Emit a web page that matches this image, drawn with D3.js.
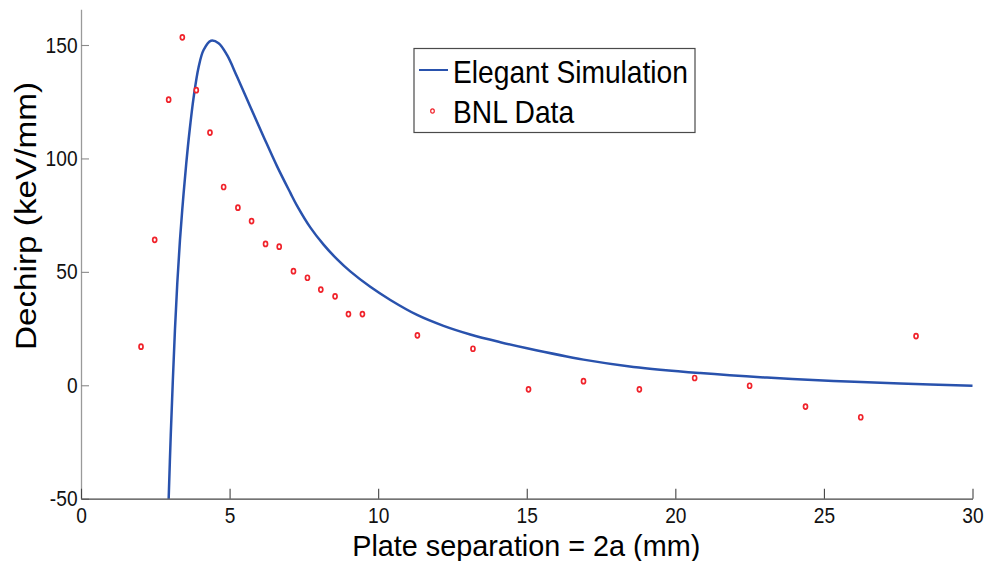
<!DOCTYPE html>
<html>
<head>
<meta charset="utf-8">
<script src="https://cdn.jsdelivr.net/npm/d3@7"></script>
<style>
  html, body { margin: 0; padding: 0; background: #fff; }
  svg { display: block; font-family: "Liberation Sans", Arial, sans-serif; }
</style>
</head>
<body>
<svg id="chart" width="984" height="561"></svg>
<script>
// ---- Data ----
const simX = [2.95, 3.02, 3.09, 3.16, 3.24, 3.33, 3.43, 3.54, 3.654, 3.789, 3.957, 4.125, 4.374, 4.63, 4.913, 5.249, 5.697, 6.144, 6.595, 7.042, 7.268, 7.715, 8.163, 8.614, 9.061, 9.734, 10.41, 11.31, 12.2, 13.1, 14.11, 15.01, 16.91, 18.59, 20.84, 23.08, 25.32, 27.57, 30.0];
const simY = [-50, -22, 2, 24, 45, 64, 81, 97.5, 112.2, 126.8, 140.2, 147.8, 151.9, 150.8, 145.6, 136.1, 122.8, 109.6, 96.6, 84.9, 79.2, 69.6, 62.0, 55.6, 50.2, 43.4, 37.6, 31.0, 26.2, 22.4, 19.0, 16.3, 11.3, 8.1, 5.4, 3.4, 1.9, 0.8, -0.2];

const bnlX = [2.02, 2.48, 2.95, 3.41, 3.88, 4.34, 4.80, 5.28, 5.74, 6.21, 6.67, 7.15, 7.62, 8.07, 8.55, 9.0, 9.47, 11.32, 13.19, 15.06, 16.91, 18.79, 20.65, 22.5, 24.38, 26.24, 28.1];
const bnlY = [17.0, 64.1, 125.9, 153.4, 130.1, 111.4, 87.4, 78.3, 72.4, 62.3, 61.1, 50.3, 47.4, 42.2, 39.2, 31.4, 31.4, 22.0, 16.1, -1.8, 1.8, -1.8, 3.2, -0.2, -9.4, -14.1, 21.7];

const xTicks = [0, 5, 10, 15, 20, 25, 30];
const yTicks = [-50, 0, 50, 100, 150];
const seriesNames = ["Elegant Simulation", "BNL Data"];
const xLabel = "Plate separation = 2a (mm)";
const yLabel = "Dechirp (keV/mm)";

// ---- Layout ----
const svg = d3.select("#chart");
const x = d3.scaleLinear().domain([0, 30]).range([81, 972.5]);
const yTop = 150 + (45 - 9.3) / 2.268;
const y = d3.scaleLinear().domain([-50, yTop]).range([498.7, 9.3]);

const lineColor = "#2952ad";
const dotColor = "#f0232b";

svg.append("clipPath").attr("id", "plotclip")
  .append("rect").attr("x", 81).attr("y", 0).attr("width", 900).attr("height", 499);

const simData = simX.map((v, i) => [v, simY[i]]);
svg.append("path")
  .datum(simData)
  .attr("clip-path", "url(#plotclip)")
  .attr("fill", "none")
  .attr("stroke", lineColor)
  .attr("stroke-width", 2.5)
  .attr("stroke-linejoin", "round")
  .attr("d", d3.line().x(d => x(d[0])).y(d => y(d[1])).curve(d3.curveCatmullRom.alpha(0.5)));

svg.append("g").selectAll("ellipse")
  .data(bnlX.map((v, i) => [v, bnlY[i]]))
  .join("ellipse")
  .attr("cx", d => x(d[0]))
  .attr("cy", d => y(d[1]))
  .attr("rx", 2.0)
  .attr("ry", 2.5)
  .attr("fill", "#fff")
  .attr("stroke", dotColor)
  .attr("stroke-width", 1.7);

// axes
const tickSX = 0.87;
const fmt = d => String(d);
const yAxis = svg.append("g")
  .attr("transform", `translate(${x(0)},0)`)
  .call(d3.axisLeft(y).tickValues(yTicks).tickSizeInner(-8).tickSizeOuter(0).tickPadding(4).tickFormat(fmt));
yAxis.select(".domain").attr("stroke", "#9a9a9a").attr("stroke-width", 1.3);
yAxis.selectAll(".tick line").attr("stroke", "#8a8a8a").attr("stroke-width", 1.1);
yAxis.selectAll(".tick text")
  .attr("font-size", 22).attr("fill", "#111")
  .attr("font-family", "Liberation Sans, Arial, sans-serif")
  .attr("transform", `scale(${tickSX},1)`);

const xAxis = svg.append("g")
  .attr("transform", `translate(0,${y(-50)})`)
  .call(d3.axisBottom(x).tickValues(xTicks).tickSizeInner(-10).tickSizeOuter(0).tickPadding(8.5).tickFormat(fmt));
xAxis.select(".domain").attr("stroke", "#444").attr("stroke-width", 1.3);
xAxis.selectAll(".tick line").attr("stroke", "#444").attr("stroke-width", 1.1);
xAxis.selectAll(".tick text")
  .attr("font-size", 22).attr("fill", "#111")
  .attr("font-family", "Liberation Sans, Arial, sans-serif")
  .attr("transform", `scale(${tickSX},1)`);

function stext(px, py, str, size, sx, sy, anchor, rot) {
  const g = svg.append("g")
    .attr("transform", `translate(${px},${py}) rotate(${rot || 0}) scale(${sx},${sy})`);
  g.append("text").attr("text-anchor", anchor).attr("font-size", size).attr("fill", "#000").text(str);
  return g;
}

// axis labels
stext((x(0) + x(30)) / 2 - 0.5, 556, xLabel, 30, 0.96, 1, "middle", 0);
stext(36, 216, yLabel, 30, 1.11, 1, "middle", -90);

// legend
svg.append("rect")
  .attr("x", 414).attr("y", 48.5).attr("width", 281).attr("height", 84)
  .attr("fill", "#fff").attr("stroke", "#4a4a4a").attr("stroke-width", 1.2);
svg.append("line")
  .attr("x1", 419).attr("x2", 448).attr("y1", 70).attr("y2", 70)
  .attr("stroke", lineColor).attr("stroke-width", 2);
svg.append("ellipse")
  .attr("cx", 432.5).attr("cy", 111).attr("rx", 1.8).attr("ry", 2.2)
  .attr("fill", "#fff").attr("stroke", dotColor).attr("stroke-width", 1.2);
stext(453, 82.5, seriesNames[0], 31.5, 0.895, 1, "start", 0);
stext(453, 123, seriesNames[1], 31.5, 0.895, 1, "start", 0);
</script>
</body>
</html>
